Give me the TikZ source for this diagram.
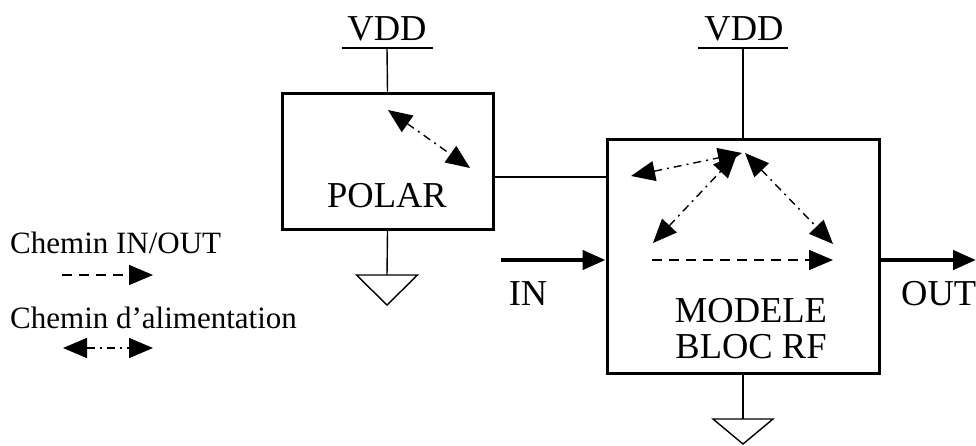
\documentclass[tikz,border=0pt]{standalone}
\usepackage{fontspec}
\setmainfont{Liberation Serif}
\usetikzlibrary{arrows.meta}
\begin{document}
\begin{tikzpicture}[x=1pt,y=-1pt,
  blk/.style={draw,line width=3pt,inner sep=0pt},
  wire/.style={line width=1.4pt},
  sig/.style={line width=4.5pt,-{Triangle[length=23pt,width=19pt]}},
  pw/.style={line width=1.4pt,dash pattern=on 8pt off 5pt on 2pt off 5pt,{Triangle[length=24pt,width=20pt]}-{Triangle[length=24pt,width=20pt]}},
  io/.style={line width=1.4pt,dash pattern=on 10pt off 7pt,-{Triangle[length=24pt,width=20pt]}},
  lbl/.style={font=\fontsize{36.5}{40}\selectfont,inner sep=0pt},
  leg/.style={font=\fontsize{31}{34}\selectfont,inner sep=0pt,anchor=base west}]
\useasboundingbox (0,0) rectangle (976,445);
% blocks
\node[blk,minimum width=211pt,minimum height=136pt] (polar) at (387.5,161) {};
\node[blk,minimum width=272pt,minimum height=234pt] (rf) at (743,256) {};
% labels
\node[lbl,anchor=base] (polarT) at (387,207) {POLAR};
\node[lbl,anchor=base] (rfT1) at (751,322) {MODELE};
\node[lbl,anchor=base] (rfT2) at (751,358) {BLOC RF};
\node[lbl,anchor=base] (vdd1) at (387,40) {VDD};
\node[lbl,anchor=base] (vdd2) at (744,40) {VDD};
\node[lbl,anchor=base] (inT) at (528,305) {IN};
\node[lbl,anchor=base west] (outT) at (901,305) {OUT};
% VDD supplies
\coordinate (v1) at (387,48);
\coordinate (v2) at (743,48);
\draw[wire] (polar.north) -- (v1);
\draw[wire] (v1) ++(-45,0) -- ++(91,0);
\draw[wire] (rf.north) -- (v2);
\draw[wire] (v2) ++(-45,0) -- ++(90,0);
% grounds
\coordinate (g1) at (387,275);
\coordinate (g2) at (743,419);
\draw[wire] (polar.south) -- (g1);
\draw[wire] (g1) ++(-30.5,0) -- ++(61,0) -- ++(-30.5,30) -- cycle;
\draw[wire] (rf.south) -- (g2);
\draw[wire] (g2) ++(-30,0) -- ++(60,0) -- ++(-30,25) -- cycle;
% polar to rf
\coordinate (p1) at (493,177);
\draw[wire] (p1) -- (p1 -| rf.west);
% IN / OUT
\coordinate (inS) at (501,260);
\coordinate (outE) at (976,260);
\draw[sig] (inS) -- (inS -| rf.west);
\draw[sig] (outE -| rf.east) -- (outE);
% internal paths
\coordinate (pa) at (388,110);
\coordinate (pb) at (470,168);
\draw[pw] (pa) -- (pb);
\coordinate (rL) at (631,176);
\coordinate (rT1) at (742,153);
\coordinate (rT2) at (737,154);
\coordinate (rT3) at (745,153);
\coordinate (rBL) at (653,243);
\coordinate (rBR) at (833,244);
\draw[pw] (rL) -- (rT1);
\draw[pw] (rBL) -- (rT2);
\draw[pw] (rT3) -- (rBR);
\coordinate (dS) at (652,260);
\coordinate (dE) at (833,260);
\draw[io] (dS) -- (dE);
% legend
\node[leg] (leg1) at (10,253) {Chemin IN/OUT};
\node[leg] (leg2) at (10,328) {Chemin d’alimentation};
\coordinate (l1a) at (62,275);
\coordinate (l1b) at (153,275);
\coordinate (l2a) at (63,348);
\coordinate (l2b) at (153,348);
\draw[io] (l1a) -- (l1b);
\draw[pw] (l2a) -- (l2b);
\end{tikzpicture}
\end{document}
